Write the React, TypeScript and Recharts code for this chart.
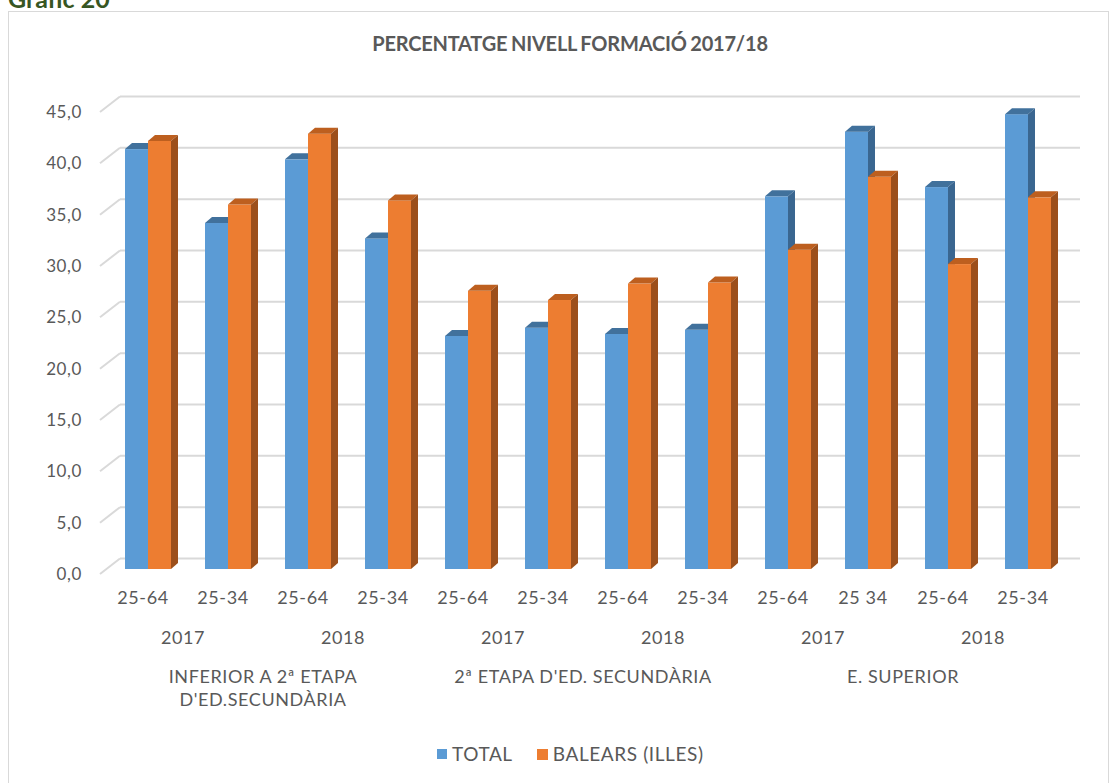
import React from "react"
import { Bar, BarChart, CartesianGrid, Legend, XAxis, YAxis } from "recharts"

// etiquetes de l'eix X (tres nivells)
const ages = ["25-64", "25-34", "25-64", "25-34", "25-64", "25-34", "25-64", "25-34", "25-64", "25 34", "25-64", "25-34"]
const yearLabels = ["2017", "2018", "2017", "2018", "2017", "2018"]
const groupLabels = [
  ["INFERIOR A 2ª ETAPA", "D'ED.SECUNDÀRIA"],
  ["2ª ETAPA D'ED. SECUNDÀRIA"],
  ["E. SUPERIOR"],
]

// valors (%)
const total = [40.9, 33.7, 39.9, 32.2, 22.7, 23.5, 22.9, 23.3, 36.3, 42.6, 37.2, 44.3]
const balears = [41.7, 35.5, 42.4, 35.9, 27.1, 26.2, 27.8, 27.9, 31.1, 38.2, 29.7, 36.2]

const yTicks = [0, 5, 10, 15, 20, 25, 30, 35, 40, 45]

const data = ages.map((age, i) => ({ id: String(i), age, total: total[i], balears: balears[i] }))

const TEXT = "#595959"
const GRID = "#d9d9d9"
const FONT = "Lato, 'Open Sans', sans-serif"

// profunditat 3D
const DX = 7
const DY = 6

const shades: Record<string, { top: string; side: string }> = {
  "#5b9bd5": { top: "#41719c", side: "#3a6690" },
  "#ed7d31": { top: "#bd5f1f", side: "#9c4f1b" },
}

const Bar3D = (props: any) => {
  const { x, y, width, height, fill } = props
  if (!height || height <= 0) return null
  const s = shades[fill]
  return (
    <g>
      <rect x={x} y={y} width={width} height={height} fill={fill} />
      <polygon points={`${x},${y} ${x + DX},${y - DY} ${x + width + DX},${y - DY} ${x + width},${y}`} fill={s.top} />
      <polygon
        points={`${x + width},${y} ${x + width + DX},${y - DY} ${x + width + DX},${y + height - DY} ${x + width},${y + height}`}
        fill={s.side}
      />
    </g>
  )
}

// línies de la paret del fons + diagonal del lateral
const GridLine = (props: any) => {
  const { x1, x2, y1 } = props
  return (
    <g key={props.key}>
      <line x1={x1 + 12} x2={x2 + 12} y1={y1 - 10.5} y2={y1 - 10.5} stroke={GRID} strokeWidth={2} />
      <line x1={x1 - 8} x2={x1 + 12} y1={y1 + 5} y2={y1 - 10.5} stroke={GRID} strokeWidth={2} />
    </g>
  )
}

const YTick = (props: any) => {
  const { y, payload } = props
  return (
    <text x={82} y={y + 5} dy="0.36em" textAnchor="end" fill={TEXT} fontSize={17} fontFamily={FONT} letterSpacing={0.6}>
      {payload.value.toFixed(1).replace(".", ",")}
    </text>
  )
}

const XTick = (props: any) => {
  const { x, payload } = props
  const i = Number(payload.value)
  const cx = x - 5
  return (
    <g fill={TEXT} fontSize={18} fontFamily={FONT} letterSpacing={0.6}>
      <text x={cx} y={604} textAnchor="middle">{ages[i]}</text>
      {i % 2 === 0 && (
        <text x={cx + 40} y={644} textAnchor="middle">{yearLabels[i / 2]}</text>
      )}
      {i % 4 === 1 &&
        groupLabels[(i - 1) / 4].map((line, k) => (
          <text key={k} x={cx + 40} y={683 + k * 23} textAnchor="middle">{line}</text>
        ))}
    </g>
  )
}

const LegendContent = () => (
  <div style={{ display: "flex", alignItems: "center", fontFamily: FONT, fontSize: 19, color: TEXT, letterSpacing: 0.6, lineHeight: "22px" }}>
    <span style={{ width: 10, height: 10, background: "#5b9bd5", display: "inline-block", marginRight: 5 }} />
    <span style={{ marginRight: 24 }}>TOTAL</span>
    <span style={{ width: 11, height: 11, background: "#ed7d31", display: "inline-block", marginRight: 5 }} />
    <span>BALEARS (ILLES)</span>
  </div>
)

export default function App() {
  return (
    <div style={{ position: "absolute", left: 0, top: 0, width: 1115, height: 783, background: "#fff", overflow: "hidden" }}>
      <div
        style={{
          position: "absolute",
          left: 8,
          top: -17,
          color: "#375623",
          fontFamily: FONT,
          fontSize: 25,
          fontWeight: 700,
        }}
      >
        Gràfic 20
      </div>
      <div style={{ position: "absolute", left: 8, top: 11, width: 1099, height: 800, border: `1.5px solid ${GRID}` }} />
      <div
        style={{
          position: "absolute",
          left: 0,
          width: 1140,
          top: 31,
          textAlign: "center",
          color: TEXT,
          fontFamily: FONT,
          fontSize: 20,
          fontWeight: 700,
          letterSpacing: -0.2,
          wordSpacing: -1,
        }}
      >
        PERCENTATGE NIVELL FORMACIÓ 2017/18
      </div>
      <div style={{ position: "absolute", left: 0, top: 0 }}>
        <BarChart
          width={1115}
          height={783}
          data={data}
          margin={{ top: 107, right: 47, bottom: 14, left: 48 }}
          barCategoryGap={17}
          barGap={0}
        >
          <CartesianGrid vertical={false} horizontal={GridLine} />
          <YAxis
            width={60}
            domain={[0, 45]}
            ticks={yTicks}
            interval={0}
            axisLine={false}
            tickLine={false}
            tick={YTick}
          />
          <XAxis dataKey="id" height={200} interval={0} axisLine={false} tickLine={false} tick={XTick} />
          <Legend
            layout="horizontal"
            verticalAlign="middle"
            align="center"
            content={LegendContent}
            wrapperStyle={{ top: 743, left: 437, width: "auto" }}
          />
          <Bar dataKey="total" name="TOTAL" fill="#5b9bd5" shape={Bar3D} isAnimationActive={false} />
          <Bar dataKey="balears" name="BALEARS (ILLES)" fill="#ed7d31" shape={Bar3D} isAnimationActive={false} />
        </BarChart>
      </div>
    </div>
  )
}
